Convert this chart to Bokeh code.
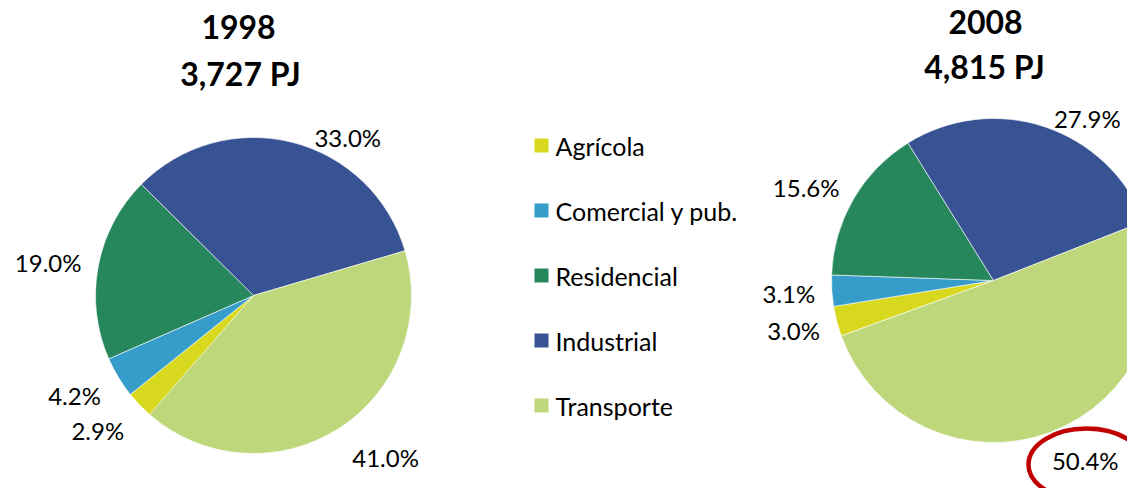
import math
from bokeh.plotting import figure
from bokeh.models import Range1d
from bokeh.core.properties import value
from bokeh.embed import file_html
from bokeh.resources import INLINE

# ---------------- data ----------------
categories = ["Agrícola", "Comercial y pub.", "Residencial", "Industrial", "Transporte"]
colors = ["#d8d91e", "#369cca", "#26865c", "#385393", "#bdd77a"]
values_1998 = [2.9, 4.2, 19.0, 33.0, 41.0]
values_2008 = [3.0, 3.1, 15.6, 27.9, 50.4]
title_1998 = ["1998", "3,727 PJ"]
title_2008 = ["2008", "4,815 PJ"]

# ---------------- layout ----------------
W, H = 1127, 488
def X(xi):
    return xi
def Y(yi):
    return H - yi

FONT = "Lato"

p = figure(width=W, height=H, output_backend="svg", toolbar_location=None,
           x_range=Range1d(0, W), y_range=Range1d(0, H), min_border=0)
p.axis.visible = False
p.grid.visible = False
p.outline_line_color = None
p.background_fill_color = "white"
p.border_fill_color = "white"

pies = [
    dict(vals=values_1998, cx=253, cy=295, r=158, start=-130.8,
         title=title_1998, tx=[238, 240], ty=[26, 73],
         lab=[(220.9, 206), (209.2, 205), (170.9, 208), (59.2, 184), (-50.8, 209)]),
    dict(vals=values_2008, cx=993, cy=280, r=162, start=-160.0,
         title=title_2008, tx=[985, 984], ty=[21, 66],
         lab=[(194.0, 206), (183.6, 205), (153.7, 209), (59.9, 187), (-63.0, 202)]),
]

for pie in pies:
    vals = pie["vals"]
    starts, ends = [], []
    a = pie["start"]
    for v in vals:
        starts.append(math.radians(a))
        a -= v * 3.6
        ends.append(math.radians(a))
    p.wedge(x=X(pie["cx"]), y=Y(pie["cy"]), radius=pie["r"],
            start_angle=starts, end_angle=ends, direction="clock",
            fill_color=colors, line_color="white", line_width=0.6)
    lx, ly, lt = [], [], []
    for (ang, rr), v in zip(pie["lab"], vals):
        lx.append(X(pie["cx"]) + rr * math.cos(math.radians(ang)))
        ly.append(Y(pie["cy"]) + rr * math.sin(math.radians(ang)))
        lt.append(f"{v:.1f}%")
    p.text(x=lx, y=ly, text=lt, text_font=value(FONT), text_font_size="24px",
           text_align="center", text_baseline="middle", text_color="#000000")
    p.text(x=[X(v) for v in pie["tx"]], y=[Y(v) for v in pie["ty"]], text=pie["title"],
           text_font=value(FONT), text_font_size="32px", text_font_style="bold",
           text_align="center", text_baseline="middle", text_color="#000000")

# legend
leg_y = [Y(145 + 65 * i) for i in range(len(categories))]
p.scatter(x=[X(541)] * len(categories), y=leg_y, marker="square", size=14,
          fill_color=colors, line_color=None)
p.text(x=[X(555)] * len(categories), y=leg_y, text=categories,
       text_font=value(FONT), text_font_size="25px", text_align="left",
       text_baseline="middle", text_color="#000000")

# red highlight ellipse around 50.4%
p.ellipse(x=X(1086), y=Y(464), width=116, height=72, fill_color=None,
          line_color="#c00000", line_width=4.5)

open("out.html", "w").write(file_html(p, INLINE))
